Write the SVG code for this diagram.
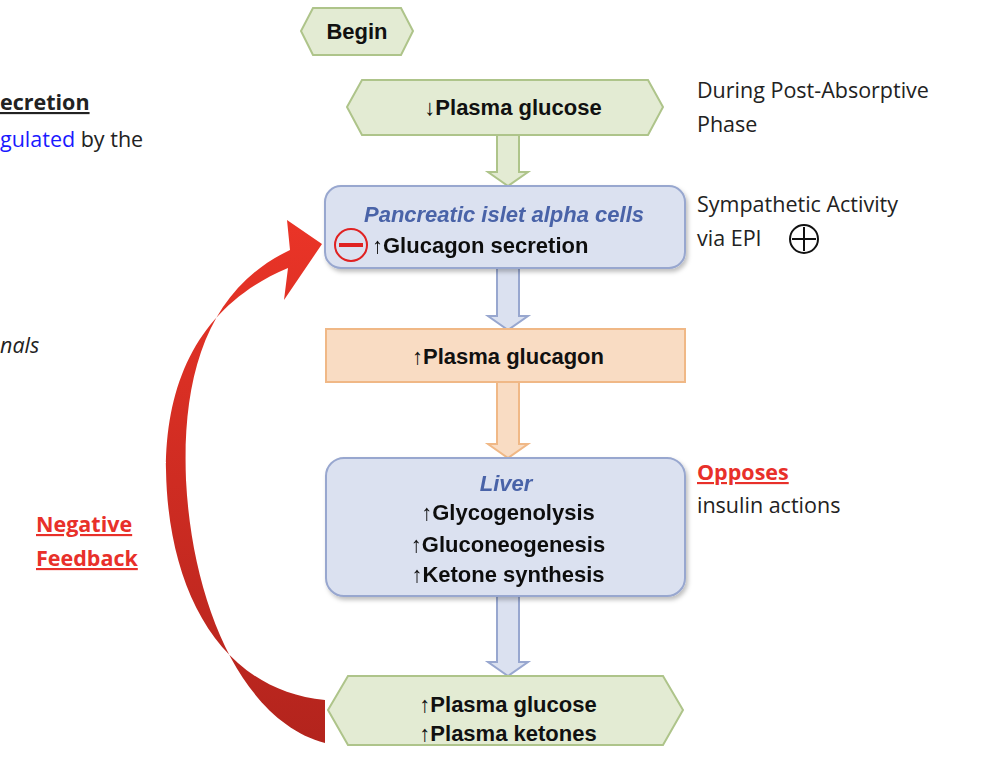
<svg xmlns="http://www.w3.org/2000/svg" width="990" height="778" viewBox="0 0 990 778">
<style>
.t{font-family:"Liberation Sans",Arial,sans-serif;font-size:22px;font-weight:bold;fill:#111}
.s{font-family:"Open Sans","Liberation Sans",sans-serif;font-size:21.5px;fill:#222}
.r{fill:#e8302a;font-weight:bold;text-decoration:underline}
.green{fill:#e3ebd3;stroke:#aec48a;stroke-width:2}
.blue{fill:#dbe1f0;stroke:#98a7cf;stroke-width:2}
.orange{fill:#f9dcc3;stroke:#f0b886;stroke-width:2}
.it{font-style:italic;fill:#4a63a8}
</style>
<defs>
<filter id="sh" x="-10%" y="-10%" width="120%" height="130%"><feDropShadow dx="2" dy="3" stdDeviation="2" flood-opacity="0.25"/></filter>
<linearGradient id="rg" x1="0" y1="0" x2="0" y2="1"><stop offset="0" stop-color="#ea3427"/><stop offset="1" stop-color="#b3241d"/></linearGradient>
</defs>
<g id="connectors">
<polygon class="green" points="497,135 519,135 519,172 528,172 508,186 488,172 497,172"/>
<polygon class="blue" points="497,268 519,268 519,316 528,316 508,330 488,316 497,316"/>
<polygon class="orange" points="497,382 519,382 519,444 528,444 508,458 488,444 497,444"/>
<polygon class="blue" points="497,596 519,596 519,662 528,662 508,676 488,662 497,662"/>
<path id="feedback" fill="url(#rg)" d="M325,700 C220,690 168,590 166,470 C166,380 200,305 288,268 L284,300 L322,244 L287,220 L290,250 C205,290 182,380 186,480 C192,600 240,720 325,743 Z"/>
</g>
<g id="n-begin"><polygon class="green" points="313,8 401,8 413,31 401,55 313,55 301,31"/><text class="t" x="357" y="39" text-anchor="middle">Begin</text></g>
<g id="n-lowglucose"><polygon class="green" points="362,80 648,80 663,107 648,135 362,135 347,107"/><text class="t" x="513" y="115" text-anchor="middle">↓Plasma glucose</text></g>
<g id="n-alpha" filter="url(#sh)"><rect class="blue" x="325" y="186" width="360" height="82" rx="16"/>
<text class="t it" x="504" y="222" text-anchor="middle">Pancreatic islet alpha cells</text>
<text class="t" x="372" y="253">↑Glucagon secretion</text>
<circle cx="351" cy="245" r="16" fill="none" stroke="#e02020" stroke-width="2"/><rect x="339" y="243" width="24" height="4" fill="#e02020"/></g>
<g id="n-glucagon"><rect class="orange" x="326" y="329" width="359" height="53"/><text class="t" x="508" y="364" text-anchor="middle">↑Plasma glucagon</text></g>
<g id="n-liver" filter="url(#sh)"><rect class="blue" x="326" y="458" width="359" height="138" rx="18"/>
<text class="t it" x="506" y="491" text-anchor="middle">Liver</text>
<text class="t" x="508" y="520" text-anchor="middle">↑Glycogenolysis</text>
<text class="t" x="508" y="552" text-anchor="middle">↑Gluconeogenesis</text>
<text class="t" x="508" y="582" text-anchor="middle">↑Ketone synthesis</text></g>
<g id="n-result"><polygon class="green" points="348,676 663,676 683,710 663,745 348,745 328,710"/>
<text class="t" x="508" y="712" text-anchor="middle">↑Plasma glucose</text>
<text class="t" x="508" y="741" text-anchor="middle">↑Plasma ketones</text></g>
<g id="labels">
<text class="s" x="0" y="110" font-weight="bold" text-decoration="underline">ecretion</text>
<text class="s" x="0" y="147"><tspan style="fill:#1a1aff">gulated</tspan> by the</text>
<text class="s" x="0" y="353" font-style="italic">nals</text>
<text class="s r" x="36" y="532">Negative</text>
<text class="s r" x="36" y="566">Feedback</text>
<text class="s" x="697" y="98">During Post-Absorptive</text>
<text class="s" x="697" y="132">Phase</text>
<text class="s" x="697" y="212">Sympathetic Activity</text>
<text class="s" x="697" y="246">via EPI</text>
<circle cx="804" cy="239" r="14" fill="none" stroke="#111" stroke-width="2"/><path d="M792,239H816M804,227V251" stroke="#111" stroke-width="2"/>
<text class="s r" x="697" y="480">Opposes</text>
<text class="s" x="697" y="513">insulin actions</text>
</g>
</svg>
